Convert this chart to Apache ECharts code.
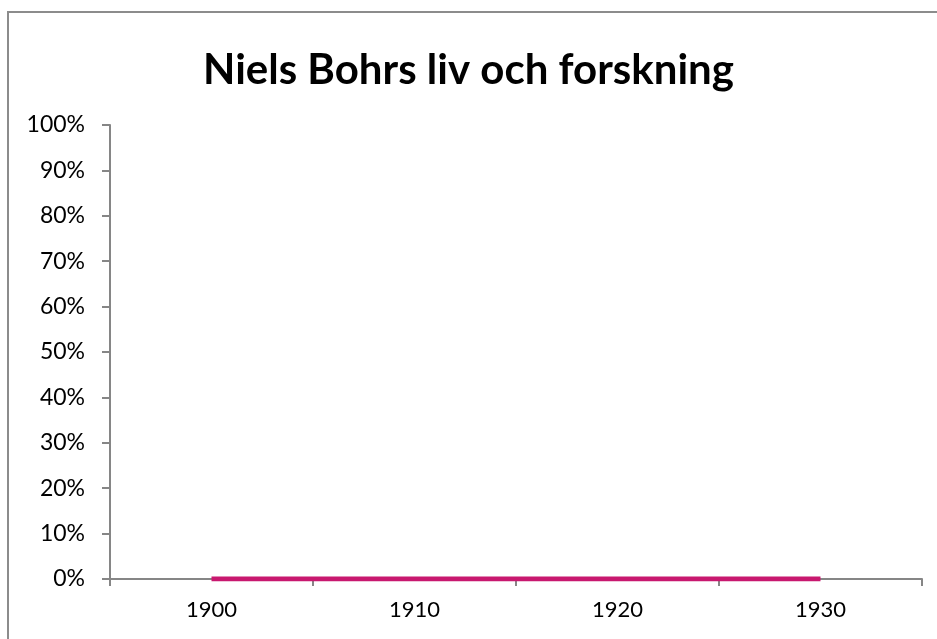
<!DOCTYPE html>
<html>
<head>
<meta charset="utf-8">
<script src="https://cdn.jsdelivr.net/npm/echarts@6/dist/echarts.min.js"></script>
<style>
  html, body { margin: 0; padding: 0; background: #fff; overflow: hidden; }
  #chart { position: absolute; left: 0; top: 0; width: 937px; height: 639px; }
  #frame { position: absolute; left: 7px; top: 11px; width: 1000px; height: 700px;
           border-left: 2px solid #8c8c8c; border-top: 2px solid #8c8c8c; pointer-events: none; }
</style>
</head>
<body>
<div id="chart"></div>
<div id="frame"></div>
<script>
// data
var years = ['1900', '1910', '1920', '1930']
var values = [0, 0, 0, 0]
var yTicks = [0, 10, 20, 30, 40, 50, 60, 70, 80, 90, 100]

var myChart = echarts.init(document.getElementById('chart'))
var font = 'Lato, "Open Sans", sans-serif'
var axisGray = '#868686'

myChart.setOption({
  animation: false,
  backgroundColor: '#fff',
  title: {
    text: 'Niels Bohrs liv och forskning',
    left: 'center',
    top: 44,
    textStyle: { fontFamily: font, fontWeight: 'bold', fontSize: 42, color: '#000' }
  },
  grid: { left: 110, right: 15, top: 125, bottom: 60 },
  xAxis: {
    type: 'category',
    data: years,
    boundaryGap: true,
    axisLine: { lineStyle: { color: axisGray, width: 2 } },
    axisTick: { show: true, length: 7, lineStyle: { color: axisGray, width: 2 } },
    axisLabel: { fontFamily: font, fontSize: 22, color: '#000', margin: 20 }
  },
  yAxis: {
    type: 'value',
    min: yTicks[0],
    max: yTicks[yTicks.length - 1],
    interval: 10,
    axisLine: { show: true, lineStyle: { color: axisGray, width: 2 } },
    axisTick: { show: true, length: 8, lineStyle: { color: axisGray, width: 2 } },
    splitLine: { show: false },
    axisLabel: {
      fontFamily: font, fontSize: 23, color: '#000', margin: 25,
      formatter: '{value}%'
    }
  },
  series: [{
    type: 'line',
    data: values,
    symbol: 'none',
    lineStyle: { color: '#C8186F', width: 5 }
  }]
})
</script>
</body>
</html>
